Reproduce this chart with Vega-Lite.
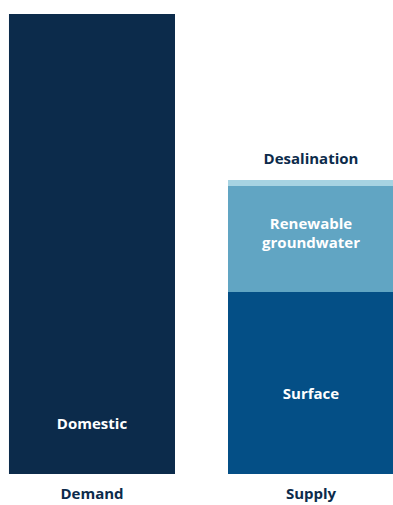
{
  "$schema": "https://vega.github.io/schema/vega-lite/v6.json",
  "width": 403,
  "height": 460,
  "autosize": "none",
  "padding": {"left": 0, "top": 14, "right": 0, "bottom": 31},
  "background": "white",
  "config": {"view": {"stroke": null}, "font": "Open Sans"},
  "data": {
    "values": [
      {"side": "Demand", "source": "Domestic", "value": 460},
      {"side": "Supply", "source": "Surface", "value": 182},
      {"side": "Supply", "source": "Renewable groundwater", "value": 106},
      {"side": "Supply", "source": "Desalination", "value": 6}
    ]
  },
  "transform": [
    {"stack": "value", "groupby": ["side"], "sort": [{"field": "source", "order": "descending"}], "as": ["y0", "y1"]}
  ],
  "encoding": {
    "x": {
      "field": "side", "type": "nominal", "title": null,
      "scale": {"paddingInner": 0.242, "paddingOuter": 0.041},
      "axis": {"domain": false, "ticks": false, "labelAngle": 0, "labelFont": "Open Sans", "labelFontWeight": "bold", "labelFontSize": 15, "labelColor": "#0c2b4b", "labelPadding": 12, "labelBaseline": "top"}
    }
  },
  "layer": [
    {
      "mark": {"type": "bar"},
      "encoding": {
        "y": {"field": "y1", "type": "quantitative", "scale": {"domain": [0, 460], "nice": false}, "axis": null},
        "y2": {"field": "y0"},
        "color": {
          "field": "source", "type": "nominal", "legend": null,
          "scale": {"domain": ["Domestic", "Surface", "Renewable groundwater", "Desalination"], "range": ["#0c2b4b", "#044f86", "#61a5c3", "#a7d3e2"]}
        }
      }
    },
    {
      "transform": [{"filter": "datum.source === 'Domestic'"}],
      "mark": {"type": "text", "font": "Open Sans", "fontWeight": "bold", "fontSize": 15, "color": "white", "baseline": "middle", "dy": -50},
      "encoding": {"y": {"field": "y0", "type": "quantitative"}, "text": {"field": "source"}}
    },
    {
      "transform": [{"filter": "datum.source === 'Surface'"}],
      "mark": {"type": "text", "font": "Open Sans", "fontWeight": "bold", "fontSize": 15, "color": "white", "baseline": "middle", "dy": -80},
      "encoding": {"y": {"field": "y0", "type": "quantitative"}, "text": {"field": "source"}}
    },
    {
      "transform": [{"filter": "datum.source === 'Renewable groundwater'"}, {"calculate": "split(datum.source, ' ')", "as": "lines"}],
      "mark": {"type": "text", "font": "Open Sans", "fontWeight": "bold", "fontSize": 15, "color": "white", "baseline": "top", "dy": 31, "lineHeight": 19},
      "encoding": {"y": {"field": "y1", "type": "quantitative"}, "text": {"field": "lines"}}
    },
    {
      "transform": [{"filter": "datum.source === 'Desalination'"}],
      "mark": {"type": "text", "font": "Open Sans", "fontWeight": "bold", "fontSize": 15, "color": "#0c2b4b", "baseline": "alphabetic", "dy": -16},
      "encoding": {"y": {"field": "y1", "type": "quantitative"}, "text": {"field": "source"}}
    }
  ]
}
